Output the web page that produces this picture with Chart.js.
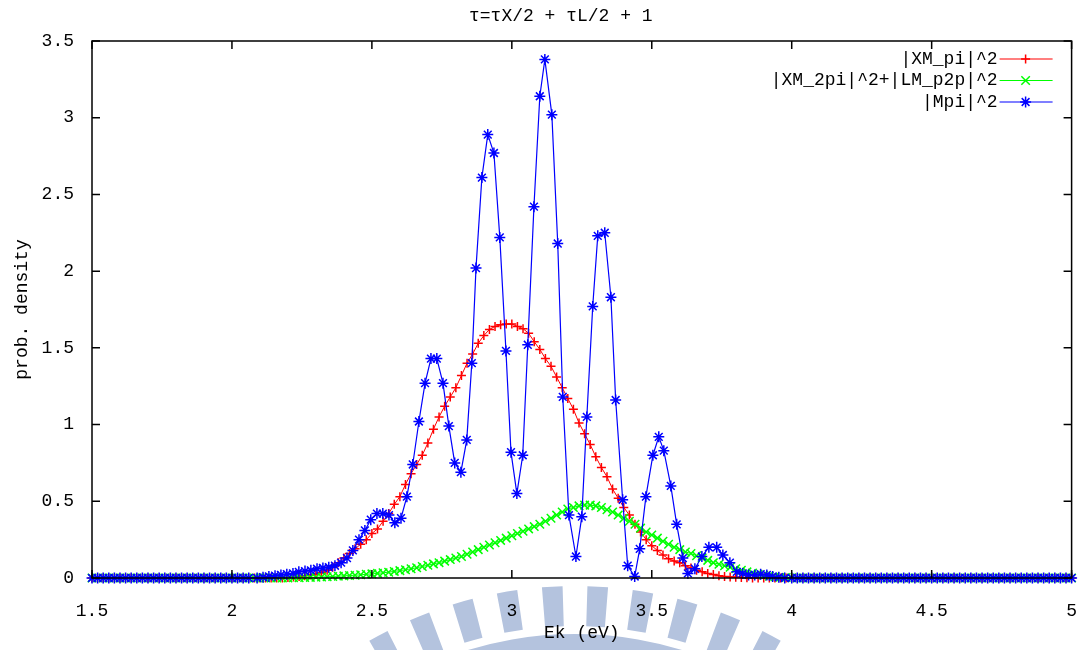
<!DOCTYPE html>
<html>
<head>
<meta charset="utf-8">
<script src="https://cdn.jsdelivr.net/npm/chart.js@4.4.0/dist/chart.umd.min.js"></script>
<style>
  body { margin: 0; background: #fff; }
</style>
</head>
<body>
<canvas id="myChart" width="1091" height="650"></canvas>

<script>
// energy grid for the two smooth curves (eV)
const ek = [
  1.50, 1.52, 1.54, 1.56, 1.58, 1.60, 1.62, 1.64, 1.66, 1.68,
  1.70, 1.72, 1.74, 1.76, 1.78, 1.80, 1.82, 1.84, 1.86, 1.88,
  1.90, 1.92, 1.94, 1.96, 1.98, 2.00, 2.02, 2.04, 2.06, 2.08,
  2.10, 2.12, 2.14, 2.16, 2.18, 2.20, 2.22, 2.24, 2.26, 2.28,
  2.30, 2.32, 2.34, 2.36, 2.38, 2.40, 2.42, 2.44, 2.46, 2.48,
  2.50, 2.52, 2.54, 2.56, 2.58, 2.60, 2.62, 2.64, 2.66, 2.68,
  2.70, 2.72, 2.74, 2.76, 2.78, 2.80, 2.82, 2.84, 2.86, 2.88,
  2.90, 2.92, 2.94, 2.96, 2.98, 3.00, 3.02, 3.04, 3.06, 3.08,
  3.10, 3.12, 3.14, 3.16, 3.18, 3.20, 3.22, 3.24, 3.26, 3.28,
  3.30, 3.32, 3.34, 3.36, 3.38, 3.40, 3.42, 3.44, 3.46, 3.48,
  3.50, 3.52, 3.54, 3.56, 3.58, 3.60, 3.62, 3.64, 3.66, 3.68,
  3.70, 3.72, 3.74, 3.76, 3.78, 3.80, 3.82, 3.84, 3.86, 3.88,
  3.90, 3.92, 3.94, 3.96, 3.98, 4.00, 4.02, 4.04, 4.06, 4.08,
  4.10, 4.12, 4.14, 4.16, 4.18, 4.20, 4.22, 4.24, 4.26, 4.28,
  4.30, 4.32, 4.34, 4.36, 4.38, 4.40, 4.42, 4.44, 4.46, 4.48,
  4.50, 4.52, 4.54, 4.56, 4.58, 4.60, 4.62, 4.64, 4.66, 4.68,
  4.70, 4.72, 4.74, 4.76, 4.78, 4.80, 4.82, 4.84, 4.86, 4.88,
  4.90, 4.92, 4.94, 4.96, 4.98, 5.00
];

// |XM_pi|^2
const xmPi = [
  0, 0, 0, 0, 0, 0, 0, 0, 0, 0,
  0, 0, 0, 0, 0, 0, 0, 0, 0, 0,
  0, 0, 0, 0, 0, 0, 0, 0, 0, 0,
  0, 0, 0, 0, 0, 0.003, 0.006, 0.01, 0.015, 0.02,
  0.025, 0.035, 0.05, 0.07, 0.10, 0.13, 0.16, 0.19, 0.22, 0.25,
  0.29, 0.32, 0.37, 0.42, 0.48, 0.53, 0.61, 0.68, 0.74, 0.80,
  0.88, 0.97, 1.05, 1.12, 1.18, 1.24, 1.32, 1.40, 1.46, 1.53,
  1.58, 1.62, 1.64, 1.65, 1.655, 1.655, 1.64, 1.625, 1.595, 1.54,
  1.49, 1.43, 1.38, 1.31, 1.24, 1.17, 1.10, 1.01, 0.94, 0.87,
  0.79, 0.72, 0.66, 0.58, 0.52, 0.46, 0.41, 0.35, 0.30, 0.25,
  0.21, 0.18, 0.15, 0.125, 0.11, 0.10, 0.08, 0.065, 0.05, 0.04,
  0.03, 0.022, 0.015, 0.01, 0.007, 0.005, 0.003, 0.002, 0, 0,
  0, 0, 0, 0, 0, 0, 0, 0, 0, 0,
  0, 0, 0, 0, 0, 0, 0, 0, 0, 0,
  0, 0, 0, 0, 0, 0, 0, 0, 0, 0,
  0, 0, 0, 0, 0, 0, 0, 0, 0, 0,
  0, 0, 0, 0, 0, 0, 0, 0, 0, 0,
  0, 0, 0, 0, 0, 0
];

// |XM_2pi|^2+|LM_p2p|^2
const xm2piLm = [
  0, 0, 0, 0, 0, 0, 0, 0, 0, 0,
  0, 0, 0, 0, 0, 0, 0, 0, 0, 0,
  0, 0, 0, 0, 0, 0, 0, 0, 0, 0,
  0, 0, 0, 0, 0, 0, 0.001, 0.002, 0.003, 0.004,
  0.005, 0.006, 0.008, 0.01, 0.012, 0.014, 0.016, 0.018, 0.021, 0.024,
  0.027, 0.03, 0.034, 0.038, 0.043, 0.048, 0.054, 0.06, 0.067, 0.075,
  0.083, 0.092, 0.10, 0.11, 0.12, 0.13, 0.14, 0.155, 0.17, 0.185,
  0.20, 0.215, 0.23, 0.245, 0.26, 0.275, 0.29, 0.305, 0.32, 0.335,
  0.35, 0.37, 0.39, 0.41, 0.43, 0.45, 0.46, 0.47, 0.475, 0.475,
  0.47, 0.46, 0.445, 0.43, 0.41, 0.39, 0.37, 0.35, 0.325, 0.30,
  0.28, 0.26, 0.24, 0.22, 0.20, 0.185, 0.17, 0.16, 0.145, 0.13,
  0.115, 0.10, 0.09, 0.08, 0.07, 0.06, 0.05, 0.04, 0.032, 0.025,
  0.018, 0.012, 0.008, 0.005, 0.003, 0.001, 0, 0, 0, 0,
  0, 0, 0, 0, 0, 0, 0, 0, 0, 0,
  0, 0, 0, 0, 0, 0, 0, 0, 0, 0,
  0, 0, 0, 0, 0, 0, 0, 0, 0, 0,
  0, 0, 0, 0, 0, 0, 0, 0, 0, 0,
  0, 0, 0, 0, 0, 0
];

// |Mpi|^2 as [Ek, value] pairs (its own energy points)
const mPi = [
  [1.50, 0], [1.52, 0], [1.54, 0], [1.56, 0], [1.58, 0], [1.60, 0], [1.62, 0], [1.64, 0], [1.66, 0], [1.68, 0],
  [1.70, 0], [1.72, 0], [1.74, 0], [1.76, 0], [1.78, 0], [1.80, 0], [1.82, 0], [1.84, 0], [1.86, 0], [1.88, 0],
  [1.90, 0], [1.92, 0], [1.94, 0], [1.96, 0], [1.98, 0], [2.00, 0], [2.02, 0], [2.04, 0], [2.06, 0],
  [2.09, 0], [2.111, 0.005], [2.132, 0.01], [2.154, 0.015], [2.175, 0.02], [2.196, 0.025], [2.218, 0.03],
  [2.239, 0.04], [2.261, 0.045], [2.282, 0.05], [2.304, 0.06], [2.325, 0.065], [2.346, 0.07], [2.368, 0.08],
  [2.39, 0.10], [2.411, 0.13], [2.432, 0.18], [2.454, 0.25], [2.475, 0.31], [2.496, 0.38], [2.518, 0.42],
  [2.539, 0.42], [2.561, 0.41], [2.582, 0.36], [2.604, 0.39], [2.625, 0.53], [2.646, 0.74], [2.668, 1.02],
  [2.69, 1.27], [2.711, 1.43], [2.732, 1.43], [2.754, 1.27], [2.775, 0.99], [2.796, 0.75], [2.818, 0.69],
  [2.839, 0.90], [2.857, 1.40], [2.872, 2.02], [2.893, 2.61], [2.914, 2.89], [2.936, 2.77], [2.957, 2.22],
  [2.979, 1.48], [2.997, 0.82], [3.018, 0.55], [3.039, 0.80], [3.057, 1.52], [3.079, 2.42], [3.10, 3.14],
  [3.118, 3.38], [3.143, 3.02], [3.164, 2.18], [3.182, 1.18], [3.204, 0.41], [3.229, 0.14], [3.25, 0.40],
  [3.268, 1.05], [3.289, 1.77], [3.307, 2.23], [3.332, 2.25], [3.354, 1.83], [3.371, 1.16], [3.396, 0.51],
  [3.414, 0.08], [3.439, 0.01], [3.457, 0.19], [3.479, 0.53], [3.504, 0.80], [3.525, 0.92], [3.543, 0.83],
  [3.568, 0.60], [3.589, 0.35], [3.611, 0.13], [3.629, 0.03], [3.654, 0.06], [3.679, 0.14], [3.704, 0.20],
  [3.732, 0.20], [3.754, 0.15], [3.779, 0.10], [3.804, 0.04], [3.825, 0.03], [3.846, 0.02], [3.868, 0.02],
  [3.889, 0.025], [3.911, 0.02], [3.932, 0.01], [3.954, 0.005], [3.975, 0],
  [4.00, 0], [4.02, 0], [4.04, 0], [4.06, 0], [4.08, 0], [4.10, 0], [4.12, 0], [4.14, 0], [4.16, 0], [4.18, 0],
  [4.20, 0], [4.22, 0], [4.24, 0], [4.26, 0], [4.28, 0], [4.30, 0], [4.32, 0], [4.34, 0], [4.36, 0], [4.38, 0],
  [4.40, 0], [4.42, 0], [4.44, 0], [4.46, 0], [4.48, 0], [4.50, 0], [4.52, 0], [4.54, 0], [4.56, 0], [4.58, 0],
  [4.60, 0], [4.62, 0], [4.64, 0], [4.66, 0], [4.68, 0], [4.70, 0], [4.72, 0], [4.74, 0], [4.76, 0], [4.78, 0],
  [4.80, 0], [4.82, 0], [4.84, 0], [4.86, 0], [4.88, 0], [4.90, 0], [4.92, 0], [4.94, 0], [4.96, 0], [4.98, 0],
  [5.00, 0]
];

const chartTitle = "τ=τX/2 + τL/2 + 1";
const legendLabels = ["|XM_pi|^2", "|XM_2pi|^2+|LM_p2p|^2", "|Mpi|^2"];

const FONT = "'Liberation Mono', 'DejaVu Sans Mono', monospace";

function toPoints(xs, ys) {
  return xs.map((x, i) => ({x: x, y: ys[i]}));
}

// gnuplot prints 2 and 0 rather than 2.0 and 0.0
function plainTick(v) {
  return String(parseFloat(Number(v).toFixed(2)));
}

// pale logo behind the x axis label
const watermark = {
  id: 'watermark',
  beforeDraw(chart) {
    const ctx = chart.ctx;
    const cx = 575, cy = 1000;
    ctx.save();
    ctx.fillStyle = '#b4c3de';
    for (let k = -7; k <= 7; k++) {
      const a0 = -Math.PI / 2 - 0.055 + k * 0.11 - 0.025;
      const a1 = a0 + 0.05;
      ctx.beginPath();
      ctx.arc(cx, cy, 414, a0, a1);
      ctx.arc(cx, cy, 374, a1, a0, true);
      ctx.closePath();
      ctx.fill();
    }
    ctx.beginPath();
    ctx.arc(cx, cy, 366, -Math.PI * 0.72, -Math.PI * 0.28);
    ctx.arc(cx, cy, 330, -Math.PI * 0.28, -Math.PI * 0.72, true);
    ctx.closePath();
    ctx.fill();
    ctx.restore();
  }
};

// gnuplot look: full border, inward ticks on all sides, title, key
const gnuplotFrame = {
  id: 'gnuplotFrame',
  afterDatasetsDraw(chart) {
    const ctx = chart.ctx;
    const a = chart.chartArea;
    const xs = chart.scales.x, ys = chart.scales.y;
    ctx.save();
    ctx.strokeStyle = '#000';
    ctx.lineWidth = 1.5;
    ctx.strokeRect(a.left, a.top, a.right - a.left, a.bottom - a.top);
    ctx.beginPath();
    xs.ticks.forEach(t => {
      const px = xs.getPixelForValue(t.value);
      ctx.moveTo(px, a.bottom); ctx.lineTo(px, a.bottom - 8);
      ctx.moveTo(px, a.top); ctx.lineTo(px, a.top + 8);
    });
    ys.ticks.forEach(t => {
      const py = ys.getPixelForValue(t.value);
      ctx.moveTo(a.left, py); ctx.lineTo(a.left + 8, py);
      ctx.moveTo(a.right, py); ctx.lineTo(a.right - 8, py);
    });
    ctx.stroke();

    ctx.fillStyle = '#000';
    ctx.font = '18px ' + FONT;
    ctx.textBaseline = 'middle';
    ctx.textAlign = 'center';
    ctx.fillText(chartTitle, (a.left + a.right) / 2 - 21, 16);

    ctx.textAlign = 'right';
    chart.data.datasets.forEach((ds, i) => {
      const ly = a.top + 18 + i * 21.5;
      ctx.fillStyle = '#000';
      ctx.fillText(legendLabels[i], a.right - 74, ly);
      ctx.strokeStyle = ds.borderColor;
      ctx.lineWidth = 1.2;
      ctx.beginPath();
      ctx.moveTo(a.right - 72, ly);
      ctx.lineTo(a.right - 19, ly);
      ctx.stroke();
      if (Chart.helpers && Chart.helpers.drawPoint) {
        ctx.lineWidth = ds.pointBorderWidth;
        Chart.helpers.drawPoint(ctx, {
          pointStyle: ds.pointStyle, radius: ds.pointRadius,
          borderWidth: ds.pointBorderWidth, rotation: 0
        }, a.right - 46, ly);
      }
    });
    ctx.restore();
  }
};

new Chart("myChart", {
  type: "line",
  data: {
    datasets: [{
      data: toPoints(ek, xmPi),
      borderColor: "#ff0000",
      backgroundColor: "#ff0000",
      borderWidth: 1,
      pointStyle: "cross",
      pointRadius: 4.5,
      pointBorderWidth: 1.5,
      order: 2,
      clip: false
    }, {
      data: toPoints(ek, xm2piLm),
      borderColor: "#00ff00",
      backgroundColor: "#00ff00",
      borderWidth: 1,
      pointStyle: "crossRot",
      pointRadius: 6,
      pointBorderWidth: 1.5,
      order: 1,
      clip: false
    }, {
      data: mPi.map(p => ({x: p[0], y: p[1]})),
      borderColor: "#0000ff",
      backgroundColor: "#0000ff",
      borderWidth: 1.2,
      pointStyle: "star",
      pointRadius: 5.5,
      pointBorderWidth: 1.5,
      order: 0,
      clip: false
    }]
  },
  options: {
    responsive: false,
    animation: false,
    layout: {padding: {top: 41, right: 19, left: 0, bottom: 0}},
    plugins: {
      legend: {display: false},
      tooltip: {enabled: false}
    },
    scales: {
      x: {
        type: "linear",
        min: 1.5, max: 5,
        grid: {display: false},
        border: {display: false},
        ticks: {stepSize: 0.5, padding: 14, color: "#000", font: {family: FONT, size: 18}, callback: plainTick},
        title: {display: true, text: "Ek (eV)", color: "#000", font: {family: FONT, size: 18}, padding: {top: 0, bottom: 6}},
        afterFit(scale) { scale.height = 72; }
      },
      y: {
        min: 0, max: 3.5,
        grid: {display: false},
        border: {display: false},
        ticks: {stepSize: 0.5, padding: 10, color: "#000", font: {family: FONT, size: 18}, callback: plainTick},
        title: {display: true, text: "prob. density", color: "#000", font: {family: FONT, size: 18}, padding: {top: 11, bottom: 0}},
        afterFit(scale) { scale.width = 92; }
      }
    }
  },
  plugins: [watermark, gnuplotFrame]
});
</script>
</body>
</html>
